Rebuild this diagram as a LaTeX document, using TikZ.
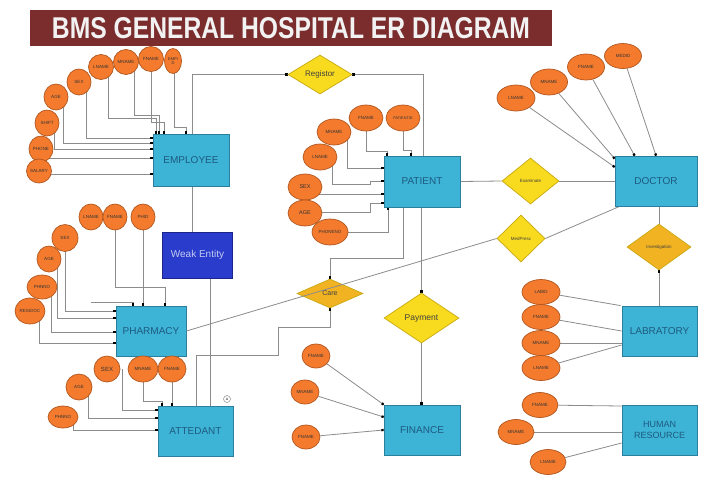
\documentclass[tikz,border=0pt]{standalone}
\usepackage{fontspec}
\usepackage{graphicx}
\setmainfont{Liberation Sans}
\usetikzlibrary{shapes.geometric,arrows.meta}
\pgfdeclarelayer{paper}
\pgfdeclarelayer{bg}
\pgfsetlayers{paper,bg,main}
\definecolor{entfill}{HTML}{3DB4D6}
\definecolor{entdraw}{HTML}{2A7F9C}
\definecolor{enttext}{HTML}{1E5A80}
\definecolor{attfill}{HTML}{F47B2E}
\definecolor{attdraw}{HTML}{B0561E}
\definecolor{relfill}{HTML}{F8DB1E}
\definecolor{reldraw}{HTML}{C8A810}
\definecolor{relfilltwo}{HTML}{F2B323}
\definecolor{weakfill}{HTML}{2A3CCB}
\definecolor{weakdraw}{HTML}{1B258A}
\definecolor{weaktext}{HTML}{C4CCF2}
\definecolor{titlefill}{HTML}{7B2D2D}
\definecolor{linegray}{HTML}{8C8C8C}
\begin{document}
\begin{tikzpicture}[x=1pt,y=-1pt,
  entity/.style={rectangle, draw=entdraw, line width=0.8pt, fill=entfill, text=enttext,
    font=\fontsize{10}{11}\selectfont, inner sep=0pt, align=center},
  weakent/.style={rectangle, draw=weakdraw, line width=0.8pt, fill=weakfill, text=weaktext,
    font=\fontsize{10}{11}\selectfont, inner sep=0pt},
  attr/.style={ellipse, draw=attdraw, line width=0.7pt, fill=attfill, inner sep=0pt,
    font=\fontsize{4.5}{5}\selectfont, text=black!80, align=center},
  rel/.style={diamond, draw=reldraw, line width=0.7pt, fill=relfill, inner sep=0pt, text=black!75},
  line/.style={draw=linegray, line width=0.8pt},
  conn/.style={line, -{Square[length=2.2pt,width=2.2pt,color=black]}},
]
\begin{pgfonlayer}{paper}
\fill[white] (0,0) rectangle (720,477);
\end{pgfonlayer}
\useasboundingbox (0,0) rectangle (720,477);

% title
\node[fill=titlefill, minimum width=522pt, minimum height=36pt, text=white!95!black, inner sep=0pt] (title) at (291,28)
  {\resizebox{478pt}{21pt}{\bfseries BMS GENERAL HOSPITAL ER DIAGRAM}};

% entities
\node[entity, minimum width=76pt, minimum height=52pt] (emp) at (191,160) {EMPLOYEE};
\node[weakent, minimum width=70pt, minimum height=46pt] (weak) at (197.5,255) {Weak Entity};
\node[entity, minimum width=70pt, minimum height=50pt] (pha) at (151,331) {PHARMACY};
\node[entity, minimum width=75pt, minimum height=50pt] (att) at (195.5,431) {ATTEDANT};
\node[entity, minimum width=76pt, minimum height=51pt] (pat) at (422,181.5) {PATIENT};
\node[entity, minimum width=82pt, minimum height=50pt] (doc) at (656,181) {DOCTOR};
\node[entity, minimum width=75pt, minimum height=50pt] (lab) at (659.5,331) {LABRATORY};
\node[entity, minimum width=75pt, minimum height=50pt, font=\fontsize{9}{11}\selectfont] (hr) at (659.5,430) {HUMAN\\RESOURCE};
\node[entity, minimum width=76pt, minimum height=50pt] (fin) at (422,430) {FINANCE};

% relationships
\node[rel, minimum width=64pt, minimum height=39pt, font=\fontsize{8}{9}\selectfont] (reg) at (320,74.5) {Registor};
\node[rel, minimum width=57pt, minimum height=46pt, font=\fontsize{4.5}{5}\selectfont] (exam) at (530.5,181) {Examinate};
\node[rel, minimum width=48pt, minimum height=47pt, font=\fontsize{4.5}{5}\selectfont] (med) at (521,238.5) {MedPresc};
\node[rel, fill=relfilltwo, minimum width=64pt, minimum height=46pt, font=\fontsize{4.5}{5}\selectfont] (inv) at (659,247) {Investigation};
\node[rel, fill=relfilltwo, minimum width=66pt, minimum height=29pt, font=\fontsize{7}{8}\selectfont] (care) at (330,293.5) {Care};
\node[rel, minimum width=75pt, minimum height=50pt, font=\fontsize{8.5}{9}\selectfont] (pay) at (421.5,318) {Payment};

% employee attributes
\node[attr, minimum width=17pt, minimum height=25pt, font=\fontsize{4}{4.5}\selectfont] (e-empid) at (173,61) {EMPI\\D};
\node[attr, minimum width=25pt, minimum height=25pt] (e-fname) at (151,59) {FNAME};
\node[attr, minimum width=25pt, minimum height=25pt] (e-mname) at (126,62) {MNAME};
\node[attr, minimum width=25pt, minimum height=25pt] (e-lname) at (101,67) {LNAME};
\node[attr, minimum width=24pt, minimum height=26pt] (e-sex) at (79,82) {SEX};
\node[attr, minimum width=24pt, minimum height=26pt] (e-age) at (56,97) {AGE};
\node[attr, minimum width=24pt, minimum height=26pt] (e-shift) at (47,123) {SHIFT};
\node[attr, minimum width=24pt, minimum height=26pt] (e-phone) at (41,149) {PHONE};
\node[attr, minimum width=24pt, minimum height=24pt] (e-sal) at (39,171) {SALARY};

% pharmacy attributes
\node[attr, minimum width=24pt, minimum height=26pt] (h-lname) at (91,217) {LNAME};
\node[attr, minimum width=24pt, minimum height=26pt] (h-fname) at (115,217) {FNAME};
\node[attr, minimum width=24pt, minimum height=26pt] (h-phid) at (143,217) {PHID};
\node[attr, minimum width=26pt, minimum height=27pt] (h-sex) at (65,238) {SEX};
\node[attr, minimum width=24pt, minimum height=26pt] (h-age) at (49,259) {AGE};
\node[attr, minimum width=30pt, minimum height=24pt] (h-phno) at (42,287) {PHNNO};
\node[attr, minimum width=30pt, minimum height=26pt] (h-res) at (30,311) {RESIDOC};

% attedant attributes
\node[attr, minimum width=26pt, minimum height=26pt, font=\fontsize{6}{7}\selectfont] (a-sex) at (107,369) {SEX};
\node[attr, minimum width=30pt, minimum height=26pt] (a-mname) at (143,369) {MNAME};
\node[attr, minimum width=28pt, minimum height=26pt] (a-fname) at (172,369) {FNAME};
\node[attr, minimum width=26pt, minimum height=26pt] (a-age) at (79,387) {AGE};
\node[attr, minimum width=30pt, minimum height=22pt] (a-phno) at (63,417) {PHNNO};
\node[circle, draw=linegray, line width=0.5pt, fill=white, minimum size=7pt, inner sep=0pt, font=\fontsize{3.5}{4}\selectfont] (mark) at (227,399) {A};

% patient attributes
\node[attr, minimum width=34pt, minimum height=26pt] (p-fname) at (366,118) {FNAME};
\node[attr, minimum width=34pt, minimum height=26pt, font=\fontsize{3.8}{4.5}\selectfont] (p-pid) at (403,118) {PATIENTID};
\node[attr, minimum width=34pt, minimum height=26pt] (p-mname) at (334,132) {MNAME};
\node[attr, minimum width=34pt, minimum height=26pt] (p-lname) at (320,157) {LNAME};
\node[attr, minimum width=34pt, minimum height=26pt, font=\fontsize{5.5}{6}\selectfont] (p-sex) at (305,187) {SEX};
\node[attr, minimum width=34pt, minimum height=26pt, font=\fontsize{5.5}{6}\selectfont] (p-age) at (305,213) {AGE};
\node[attr, minimum width=36pt, minimum height=26pt] (p-phone) at (330,232) {PHONENO};

% doctor attributes
\node[attr, minimum width=38pt, minimum height=26pt] (d-lname) at (516,98) {LNAME};
\node[attr, minimum width=37pt, minimum height=26pt] (d-mname) at (549,82) {MNAME};
\node[attr, minimum width=37pt, minimum height=26pt] (d-fname) at (586,67) {FNAME};
\node[attr, minimum width=37pt, minimum height=25pt] (d-medid) at (623,56) {MEDID};

% labratory attributes
\node[attr, minimum width=38pt, minimum height=25pt] (l-labid) at (541,292) {LABID};
\node[attr, minimum width=38pt, minimum height=25pt] (l-fname) at (541,317) {FNAME};
\node[attr, minimum width=38pt, minimum height=25pt] (l-mname) at (541,343) {MNAME};
\node[attr, minimum width=38pt, minimum height=25pt] (l-lname) at (541,368) {LNAME};

% human resource attributes
\node[attr, minimum width=36pt, minimum height=25pt] (r-fname) at (540,405) {FNAME};
\node[attr, minimum width=36pt, minimum height=25pt] (r-mname) at (516,432) {MNAME};
\node[attr, minimum width=36pt, minimum height=25pt] (r-lname) at (548,462) {LNAME};

% finance attributes
\node[attr, minimum width=28pt, minimum height=24pt] (f-fname) at (316,356) {FNAME};
\node[attr, minimum width=28pt, minimum height=24pt] (f-mname) at (305,392) {MNAME};
\node[attr, minimum width=28pt, minimum height=24pt] (f-fname2) at (306,437) {FNAME};

% bend points
\coordinate (k1) at (108,118); \coordinate (k1b) at (156,118);
\coordinate (k2) at (134,115); \coordinate (k2b) at (159,115);
\coordinate (k3) at (151,122); \coordinate (k3b) at (164,122);
\coordinate (k4) at (174,127); \coordinate (k4b) at (186,127);
\coordinate (k5) at (86,138);
\coordinate (k6) at (63,143);
\coordinate (k7) at (54,149);
\coordinate (k8) at (41,158);
\coordinate (k9) at (39,174);
\coordinate (r1) at (192,74.5);
\coordinate (r2) at (423,74.5);
\coordinate (w1) at (192,200);
\coordinate (w2) at (210,300);
\coordinate (c1) at (196,355); \coordinate (c2) at (278,355);
\coordinate (c3) at (278,327); \coordinate (c4) at (330,327);
\coordinate (p1) at (403,258); \coordinate (p2) at (330,258);
\coordinate (q1) at (387,151);
\coordinate (q2) at (411,150);
\coordinate (q3) at (347,168);
\coordinate (q4) at (332,184); \coordinate (q5) at (370,184); \coordinate (q6) at (370,181);
\coordinate (q7) at (370,194);
\coordinate (q8) at (370,212); \coordinate (q9) at (370,203);
\coordinate (q10) at (388,232);
\coordinate (g1) at (133,302);
\coordinate (g2) at (165,287);
\coordinate (g3) at (65,311);
\coordinate (g4) at (57,318);
\coordinate (g5) at (51,332);
\coordinate (g6) at (39,343);
\coordinate (t1) at (122,410);
\coordinate (t2) at (162,401);
\coordinate (t3) at (88,418);
\coordinate (t4) at (73,430);

\begin{pgfonlayer}{bg}
% employee attribute links
\draw[conn] (k1 |- e-lname) -- (k1) -- (k1b) -- (k1b |- emp.north);
\draw[conn] (k2 |- e-mname) -- (k2) -- (k2b) -- (k2b |- emp.north);
\draw[conn] (k3 |- e-fname) -- (k3) -- (k3b) -- (k3b |- emp.north);
\draw[conn] (k4 |- e-empid) -- (k4) -- (k4b) -- (k4b |- emp.north);
\draw[conn] (k5 |- e-sex) -- (k5) -- (k5 -| emp.west);
\draw[conn] (k6 |- e-age) -- (k6) -- (k6 -| emp.west);
\draw[conn] (k7 |- e-shift) -- (k7) -- (k7 -| emp.west);
\draw[conn] (k8 |- e-phone) -- (k8) -- (k8 -| emp.west);
\draw[conn] (k9 |- e-sal) -- (k9) -- (k9 -| emp.west);
% pharmacy attribute links
\draw[conn] (g1 -| h-lname) -- (g1) -- (g1 |- pha.north);
\draw[conn] (h-fname) |- (g2) -- (g2 |- pha.north);
\draw[conn] (h-phid) -- (h-phid |- pha.north);
\draw[conn] (g3 |- h-sex) -- (g3) -- (g3 -| pha.west);
\draw[conn] (g4 |- h-age) -- (g4) -- (g4 -| pha.west);
\draw[conn] (g5 |- h-phno) -- (g5) -- (g5 -| pha.west);
\draw[conn] (g6 |- h-res) -- (g6) -- (g6 -| pha.west);
% attedant attribute links
\draw[conn] (t1 |- a-sex) -- (t1) -- (t1 -| att.west);
\draw[conn] (a-mname) |- (t2) -- (t2 |- att.north);
\draw[conn] (a-fname) -- (a-fname |- att.north);
\draw[conn] (t3 |- a-age) -- (t3) -- (t3 -| att.west);
\draw[conn] (t4 |- a-phno) -- (t4) -- (t4 -| att.west);
% patient attribute links
\draw[conn] (p-fname) |- (q1) -- (q1 |- pat.north);
\draw[conn] (p-pid) |- (q2) -- (q2 |- pat.north);
\draw[conn] (q3 |- p-mname) -- (q3) -- (q3 -| pat.west);
\draw[conn] (q4 |- p-lname) -- (q4) -- (q5) -- (q6) -- (q6 -| pat.west);
\draw[conn] (q7 -| p-sex) -- (q7 -| pat.west);
\draw[conn] (q8 -| p-age) -- (q8) -- (q9) -- (q9 -| pat.west);
\draw[conn] (p-phone) -- (q10) -- (q10 |- pat.south);
% doctor attribute links
\draw[conn] (d-lname) -- ([yshift=14pt]doc.west);
\draw[conn] (d-mname) -- ([yshift=-3pt]doc.north west);
\draw[conn] (d-fname) -- ([xshift=20pt]doc.north west);
\draw[conn] (d-medid) -- (doc.north);
% labratory attribute links
\draw[line] (l-labid) -- ([xshift=-1pt]lab.north west);
\draw[line] (l-fname) -- (lab.west);
\draw[line] (l-mname) -- ([yshift=-12pt]lab.west);
\draw[line] (l-lname) -- ([yshift=-14pt]lab.west);
% human resource attribute links
\draw[line] (r-fname) -- ([yshift=-1pt]r-fname -| hr.west);
\draw[line] (r-mname) -- (r-mname -| hr.west);
\draw[line] (r-lname) -- ([yshift=-13pt]hr.west);
% finance attribute links
\draw[conn] (f-fname) -- (fin.north west);
\draw[conn] (f-mname) -- ([yshift=13pt]fin.west);
\draw[conn] (f-fname2) -- (fin.west);
% relationships
\draw[conn] (r1 |- emp.north) -- (r1) -- (reg.west);
\draw[conn] (r2 |- pat.north) -- (r2) -- (reg.east);
\draw[line] (w1 |- emp.south) -- (w1 |- weak.north);
\draw[line] (w2 |- weak.south) -- (w2 |- att.north);
\draw[conn] (c1 |- att.north) -- (c1) -- (c2) -- (c3) -- (c4) -- (care.south);
\draw[conn] (p1 |- pat.south) -- (p1) -- (p2) -- (care.north);
\draw[conn] (pay.north |- pat.south) -- (pay.north);
\draw[conn] (pay.south) -- (pay.south |- fin.north);
\draw[line] (pat.east) -- (exam.west);
\draw[line] (exam.east) -- (doc.west);
\draw[line] (med.east) -- ([xshift=5pt]doc.south west);
\draw[line] (inv.north |- doc.south) -- (inv.north);
\draw[conn] (inv.south |- lab.north) -- (inv.south);
\end{pgfonlayer}
% line crossing over Care
\draw[line] (pha.east) -- (med.west);
\end{tikzpicture}
\end{document}
